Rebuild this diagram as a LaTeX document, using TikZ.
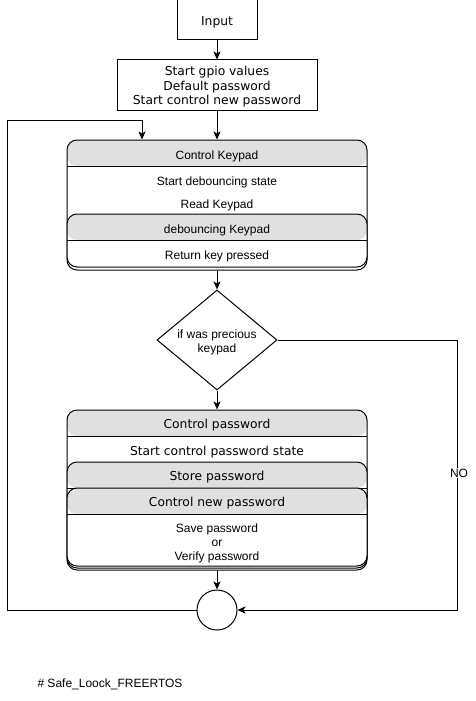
\documentclass[tikz,border=0pt]{standalone}
\usepackage{fontspec}
\setmainfont{Liberation Sans}
\newfontfamily\verd{DejaVu Sans}
\usetikzlibrary{arrows.meta,shapes.geometric}
\definecolor{hdr}{HTML}{E0E0E0}
\begin{document}
\begin{tikzpicture}[x=1pt,y=-1pt,
  line width=1pt,
  arr/.style={draw,-{Stealth[length=8pt,width=7pt,inset=2pt]}},
  box/.style={draw,fill=white,inner sep=0pt},
  vtxt/.style={font=\verd\fontsize{12.3}{14.5}\selectfont,align=center,inner sep=0pt,yshift=-2pt},
  atxt/.style={font=\fontsize{12}{14}\selectfont,align=center,inner sep=0pt,yshift=-2pt},
  swim/.style={draw,fill=white,rounded corners=10pt,inner sep=0pt,
    minimum width=300pt,
    path picture={
      \fill[hdr] (path picture bounding box.north west) rectangle ([yshift=-26pt]path picture bounding box.north east);
      \draw[line width=1pt] ([yshift=-26pt]path picture bounding box.north west) -- ([yshift=-26pt]path picture bounding box.north east);
    }},
  dia/.style={draw,diamond,fill=white,inner sep=0pt,minimum width=120pt,minimum height=100pt},
]
\useasboundingbox[fill=white] (0,0) rectangle (476,701);

% top boxes
\node[box,minimum width=80pt,minimum height=40pt] (input) at (217,20) {};
\node[vtxt] (inputt) at (input) {Input};
\node[box,minimum width=200pt,minimum height=50pt] (init) at (217,85) {};
\node[vtxt] (initt) at (init) {Start gpio values\\Default password\\Start control new password};

% Control Keypad container
\node[swim,minimum height=130pt] (ck) at (217,205) {};
\node[atxt] (ckh) at (217,154) {Control Keypad};
\node[atxt] (ck1) at (217,180) {Start debouncing state};
\node[atxt] (ck2) at (217,203) {Read Keypad};
\node[swim,minimum height=53pt] (db) at (217,240.5) {};
\node[atxt] (dbh) at (217,228) {debouncing Keypad};
\node[atxt] (db1) at (217,254) {Return key pressed};

% decision
\node[dia] (dec) at (217,340) {};
\node[atxt] (dect) at (dec) {if was precious\\keypad};

% Control password container
\node[swim,minimum height=160pt] (cp) at (217,490) {};
\node[vtxt] (cph) at (217,423.5) {Control password};
\node[vtxt] (cp1) at (217,450) {Start control password state};
\node[swim,minimum height=106pt] (sp) at (217,515) {};
\node[vtxt] (sph) at (217,475.5) {Store password};
\node[swim,minimum height=78pt] (np) at (217,527) {};
\node[vtxt] (nph) at (217,501.5) {Control new password};
\node[atxt] (np1) at (217,541) {Save password\\or\\Verify password};

% end circle
\node[circle,draw,fill=white,minimum size=40pt,inner sep=0pt] (circ) at (217,610) {};

% title
\node[atxt,anchor=west] (title) at (37,682) {\# Safe\_Loock\_FREERTOS};

% connectors
\draw[arr] (input) -- (init);
\draw[arr] (init) -- (ck);
\draw[arr] (ck) -- (dec);
\draw[arr] (dec) -- (cp);
\draw[arr] (cp) -- (circ);

\coordinate (l1) at (7,610);
\coordinate (l2) at (7,120);
\coordinate (l3) at (142,120);
\draw[arr] (circ.west) -- (l1) -- (l2) -- (l3) -- (l3 |- ck.north);

\coordinate (r1) at (457,340);
\coordinate (r2) at (457,610);
\draw[arr] (dec.east) -- (r1) -- (r2) -- (circ.east);
\node[atxt,fill=white,inner sep=1pt] (no) at (459,471) {NO};
\end{tikzpicture}
\end{document}
